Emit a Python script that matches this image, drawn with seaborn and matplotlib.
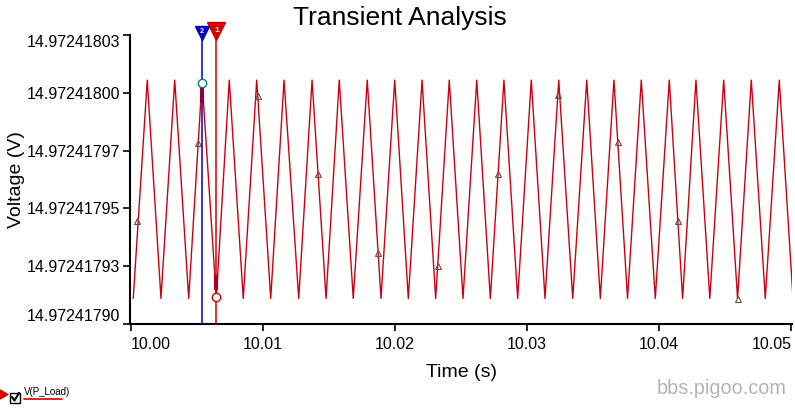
import numpy as np
import pandas as pd
import seaborn as sns
import matplotlib.pyplot as plt
import matplotlib.transforms as mtransforms
from matplotlib.lines import Line2D
from matplotlib.patches import Rectangle, Polygon

# Tiempos (s) de valles y picos de V(P_Load)
t_valles = [10.00017, 10.00227, 10.00437, 10.00646, 10.00850, 10.01058, 10.01270,
            10.01477, 10.01683, 10.01893, 10.02100, 10.02307, 10.02514, 10.02721,
            10.02928, 10.03135, 10.03345, 10.03554, 10.03760, 10.03970, 10.04177,
            10.04383, 10.04593, 10.04803, 10.05013]
t_picos = [10.00123, 10.00331, 10.00538, 10.00744, 10.00952, 10.01159, 10.01371,
           10.01577, 10.01789, 10.01997, 10.02204, 10.02410, 10.02618, 10.02824,
           10.03031, 10.03239, 10.03451, 10.03657, 10.03864, 10.04076, 10.04278,
           10.04488, 10.04697, 10.04909]
v_valles = [14.9724179115] * len(t_valles)
v_picos = [14.9724180097] * len(t_picos)

# Marcadores de la traza (triangulos)
t_marcas = [10.00045, 10.00507, 10.00962, 10.01416, 10.01870, 10.02325,
            10.02779, 10.03233, 10.03688, 10.04142, 10.04596]
v_marcas = [14.9724179462, 14.9724179814, 14.9724180025, 14.9724179674,
            14.9724179318, 14.9724179259, 14.9724179674, 14.9724180030,
            14.9724179818, 14.9724179462, 14.9724179111]

# Cursores: 1 (rojo) y 2 (azul)
cursor_nombres = ["1", "2"]
cursor_t = [10.00646, 10.00538]
cursor_v = [14.9724179120, 14.9724180084]
cursor_resalte = [(14.9724179151, 14.9724179219), (14.9724179994, 14.9724180066)]
cursor_colores = ["#d40000", "#0000c0"]

ticks_x = [10.00, 10.01, 10.02, 10.03, 10.04, 10.05]
etiquetas_x = ["10.00", "10.01", "10.02", "10.03", "10.04", "10.05"]
y_min, y_max = 14.9724179000, 14.9724180300
etiquetas_y = ["14.97241790", "14.97241793", "14.97241795",
               "14.97241797", "14.97241800", "14.97241803"]

# Se intercalan valles y picos para formar la traza
tiempos, voltajes = [], []
for i in range(len(t_valles)):
    tiempos.append(t_valles[i]); voltajes.append(v_valles[i])
    if i < len(t_picos):
        tiempos.append(t_picos[i]); voltajes.append(v_picos[i])
df = pd.DataFrame({"t": tiempos, "v": voltajes})

sns.set_style("ticks")
plt.rcParams["font.family"] = ["Liberation Sans", "DejaVu Sans"]
plt.rcParams["text.color"] = "black"
plt.rcParams["axes.labelcolor"] = "black"
plt.rcParams["xtick.color"] = "black"
plt.rcParams["ytick.color"] = "black"

W, H = 795, 411
fig = plt.figure(figsize=(W / 100, H / 100), dpi=100)
ax = fig.add_axes([130 / W, 1 - 324 / H, 662 / W, 289 / H])

sns.lineplot(data=df, x="t", y="v", ax=ax, color="#cc0010", linewidth=1.0,
             sort=False, estimator=None)
ax.plot(t_marcas, v_marcas, linestyle="none", marker="^", markersize=5,
        mfc="none", mec="#6a4a4a", mew=0.8, zorder=4)

ax.set_xlim(10.0 - 1 / 13206, 10.05 + 0.7 / 13206)
ax.set_ylim(y_min, y_max)
ax.set_xticks(ticks_x)
ax.set_xticklabels(etiquetas_x)
ax.get_xticklabels()[0].set_ha("left")
ax.get_xticklabels()[-1].set_ha("right")
ax.set_yticks(np.linspace(y_min, y_max, len(etiquetas_y)))
ax.set_yticklabels(etiquetas_y)
ax.get_yticklabels()[0].set_va("bottom")
ax.get_yticklabels()[-1].set_va("top")
ax.tick_params(axis="both", labelsize=11.5, length=5, width=1.2, color="black")
ax.tick_params(axis="y", pad=2)
ax.tick_params(axis="x", pad=4)
sns.despine(ax=ax)
for s in ["left", "bottom"]:
    ax.spines[s].set_linewidth(1.5)
    ax.spines[s].set_color("black")
ax.set_xlabel("Time (s)", fontsize=14, labelpad=9)
ax.set_ylabel("Voltage (V)", fontsize=14, labelpad=1)

# Cursores
trans = mtransforms.blended_transform_factory(ax.transData, ax.transAxes)
for nombre, t, v, (r0, r1), c in zip(cursor_nombres, cursor_t, cursor_v,
                                       cursor_resalte, cursor_colores):
    ax.plot([t, t], [0, 1.015], color=c, linewidth=1.1, transform=trans,
            clip_on=False, zorder=5)
    ax.plot([t, t], [r0, r1], color="#b00020" if nombre == "1" else "#8a0040",
            linewidth=3, solid_capstyle="butt", zorder=5)
    ax.plot(t, v, marker="o", markersize=6, mfc="white",
            mec=c if nombre == "1" else "#008080", mew=1, zorder=6)
    ms = 13 if nombre == "1" else 10
    yh = 1.013 if nombre == "1" else 1.008
    ax.plot(t, yh, marker="v", markersize=ms, color=c, transform=trans,
            clip_on=False, zorder=7)
    ax.text(t, yh + 0.004, nombre, transform=trans, color="white",
            fontsize=6 if nombre == "1" else 5, fontweight="bold",
            ha="center", va="center", clip_on=False, zorder=8)

fig.text(400 / W, 1 - 18 / H, "Transient Analysis", fontsize=19,
         ha="center", va="center")


def px(x, y):
    return (x / W, 1 - y / H)


# Leyenda inferior
fig.add_artist(Polygon([px(0, 390), px(0, 399), px(8, 394.5)], closed=True,
                       transform=fig.transFigure, color="#d40000"))
x0, y0 = px(10, 403)
fig.add_artist(Rectangle((x0, y0), 10 / W, 10 / H, transform=fig.transFigure,
                         fill=False, edgecolor="black", linewidth=1))
fig.add_artist(Line2D([px(12, 397)[0], px(14.5, 400.5)[0], px(19, 393)[0]],
                      [px(12, 397)[1], px(14.5, 400.5)[1], px(19, 393)[1]],
                      transform=fig.transFigure, color="black", linewidth=1.5))
fig.text(24 / W, 1 - 392 / H, "V(P_Load)", fontsize=7, ha="left", va="center")
fig.add_artist(Line2D([24 / W, 62 / W], [1 - 399 / H, 1 - 399 / H],
                      transform=fig.transFigure, color="#d40000", linewidth=1.2))

fig.text(787 / W, 1 - 388 / H, "bbs.pigoo.com", fontsize=14.3, color="#b4b4b4",
         ha="right", va="center")

plt.savefig("out.png", dpi=100)
